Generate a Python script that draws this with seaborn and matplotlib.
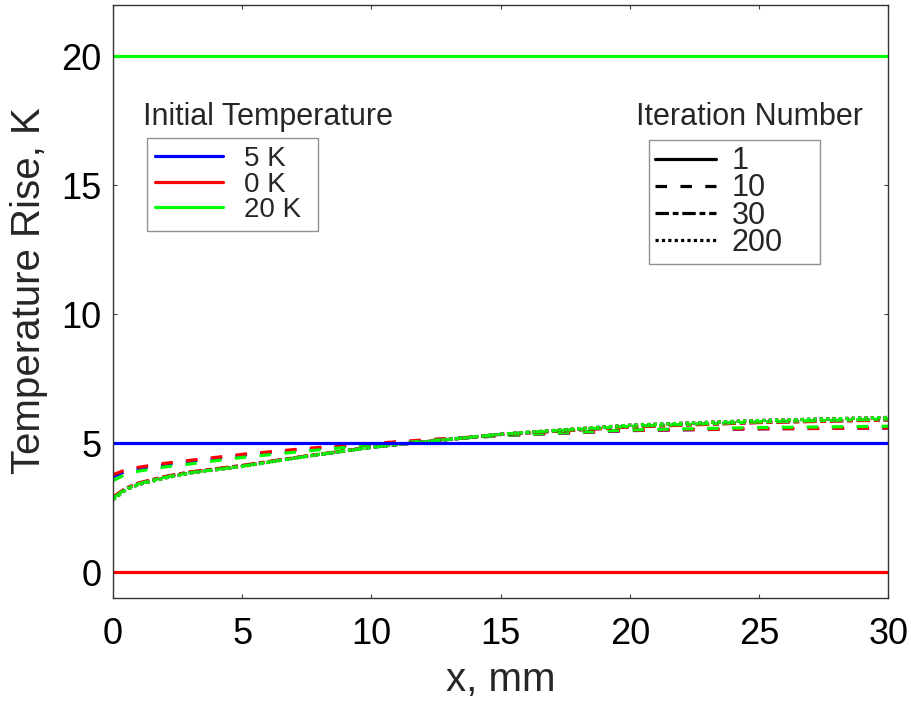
import numpy as np
import pandas as pd
import seaborn as sns
import matplotlib.pyplot as plt
from matplotlib.lines import Line2D

# data
x_mm = [0, 0.5, 1, 2, 3, 5, 7.5, 10, 12.5, 15, 20, 25, 30]
init_temps = [5, 0, 20]
temp_labels = ['5 K', '0 K', '20 K']
iterations = [1, 10, 30, 200]

# iteration 10 (dashed)
it10_5K = [3.70, 3.92, 4.02, 4.17, 4.30, 4.53, 4.77, 4.97, 5.14, 5.29, 5.49, 5.56, 5.59]
it10_0K = [3.78, 3.97, 4.07, 4.22, 4.34, 4.57, 4.80, 4.99, 5.16, 5.30, 5.50, 5.56, 5.59]
it10_20K = [3.55, 3.80, 3.92, 4.08, 4.20, 4.45, 4.70, 4.93, 5.12, 5.30, 5.52, 5.61, 5.66]
# iteration 30 (dash-dot)
it30_5K = [2.90, 3.25, 3.45, 3.70, 3.88, 4.13, 4.50, 4.84, 5.10, 5.34, 5.64, 5.81, 5.91]
it30_0K = [2.92, 3.26, 3.46, 3.71, 3.89, 4.14, 4.51, 4.85, 5.10, 5.34, 5.63, 5.80, 5.90]
it30_20K = [2.87, 3.23, 3.43, 3.68, 3.86, 4.11, 4.49, 4.84, 5.10, 5.35, 5.66, 5.83, 5.94]
# iteration 200 (dotted)
it200_5K = [2.80, 3.20, 3.40, 3.65, 3.85, 4.10, 4.50, 4.85, 5.10, 5.35, 5.70, 5.88, 6.00]
it200_0K = [2.80, 3.20, 3.40, 3.65, 3.85, 4.10, 4.50, 4.85, 5.10, 5.35, 5.70, 5.88, 6.00]
it200_20K = [2.80, 3.20, 3.40, 3.65, 3.85, 4.10, 4.50, 4.85, 5.10, 5.35, 5.70, 5.88, 6.00]

series = {
    (5, 1): [5] * len(x_mm), (0, 1): [0] * len(x_mm), (20, 1): [20] * len(x_mm),
    (5, 10): it10_5K, (0, 10): it10_0K, (20, 10): it10_20K,
    (5, 30): it30_5K, (0, 30): it30_0K, (20, 30): it30_20K,
    (5, 200): it200_5K, (0, 200): it200_0K, (20, 200): it200_20K,
}

rows = []
for (t0, it), vals in series.items():
    for xv, yv in zip(x_mm, vals):
        rows.append({'x': xv, 'T': yv, 'temp': t0, 'iter': it})
df = pd.DataFrame(rows)

colors = {5: '#0000ff', 0: '#ff0000', 20: '#00ff00'}
dash_styles = {1: '-', 10: (0, (3.6, 4.2)), 30: (0, (4.2, 1.2, 1.8, 1.2)), 200: (0, (1, 1))}

sns.set_theme(style='white')
plt.rcParams['font.family'] = ['Liberation Sans', 'DejaVu Sans']

fig = plt.figure(figsize=(9.11, 7.01), dpi=100)
ax = fig.add_axes([0.124, 0.147, 0.851, 0.846])

for it in [10, 30, 200, 1]:
    for t0 in [5, 0, 20]:
        sub = df[(df['temp'] == t0) & (df['iter'] == it)]
        sns.lineplot(data=sub, x='x', y='T', ax=ax, color=colors[t0],
                     linestyle=dash_styles[it], linewidth=2.3, legend=False,
                     estimator=None, sort=True)

ax.set_xlim(0, 30)
ax.set_ylim(-1, 22)
ax.set_xticks([0, 5, 10, 15, 20, 25, 30])
ax.set_yticks([0, 5, 10, 15, 20])
ax.tick_params(axis='both', labelsize=26, direction='in', length=3, width=0.8,
               top=True, right=True, left=True, bottom=True, colors='#444444',
               labelcolor='black')
ax.tick_params(axis='x', pad=14)
ax.tick_params(axis='y', pad=8)
ax.set_xlabel('x, mm', fontsize=29, labelpad=6)
ax.set_ylabel('Temperature Rise, K', fontsize=29, labelpad=10)
ax.yaxis.label.set_y(0.518)
for sp in ax.spines.values():
    sp.set_color('#333333')
    sp.set_linewidth(1.0)

# legend for initial temperature
h1 = [Line2D([], [], color=colors[t], linewidth=2.3) for t in init_temps]
leg1 = ax.legend(h1, temp_labels, loc='upper left',
                 bbox_to_anchor=(0.0439, 0.776, 0.2206, 0), mode='expand',
                 fontsize=20, frameon=True, fancybox=False, edgecolor='#777777',
                 handlelength=2.45, handletextpad=0.75, labelspacing=-0.02,
                 borderpad=0.3, borderaxespad=0)
leg1.get_frame().set_linewidth(1.0)
ax.add_artist(leg1)
ax.text(0.039, 0.811, 'Initial Temperature', transform=ax.transAxes,
        fontsize=22, va='center', ha='left')

# legend for iteration number
h2 = [Line2D([], [], color='black', linestyle=dash_styles[i], linewidth=2.3)
      for i in iterations]
leg2 = ax.legend(h2, [str(i) for i in iterations], loc='upper left',
                 bbox_to_anchor=(0.6916, 0.772, 0.2206, 0), mode='expand',
                 fontsize=22, frameon=True, fancybox=False, edgecolor='#777777',
                 handlelength=2.0, handletextpad=0.5, labelspacing=-0.09,
                 borderpad=0.2, borderaxespad=0)
leg2.get_frame().set_linewidth(1.0)
ax.text(0.675, 0.811, 'Iteration Number', transform=ax.transAxes,
        fontsize=22, va='center', ha='left')

fig.savefig('out.png', dpi=100)
